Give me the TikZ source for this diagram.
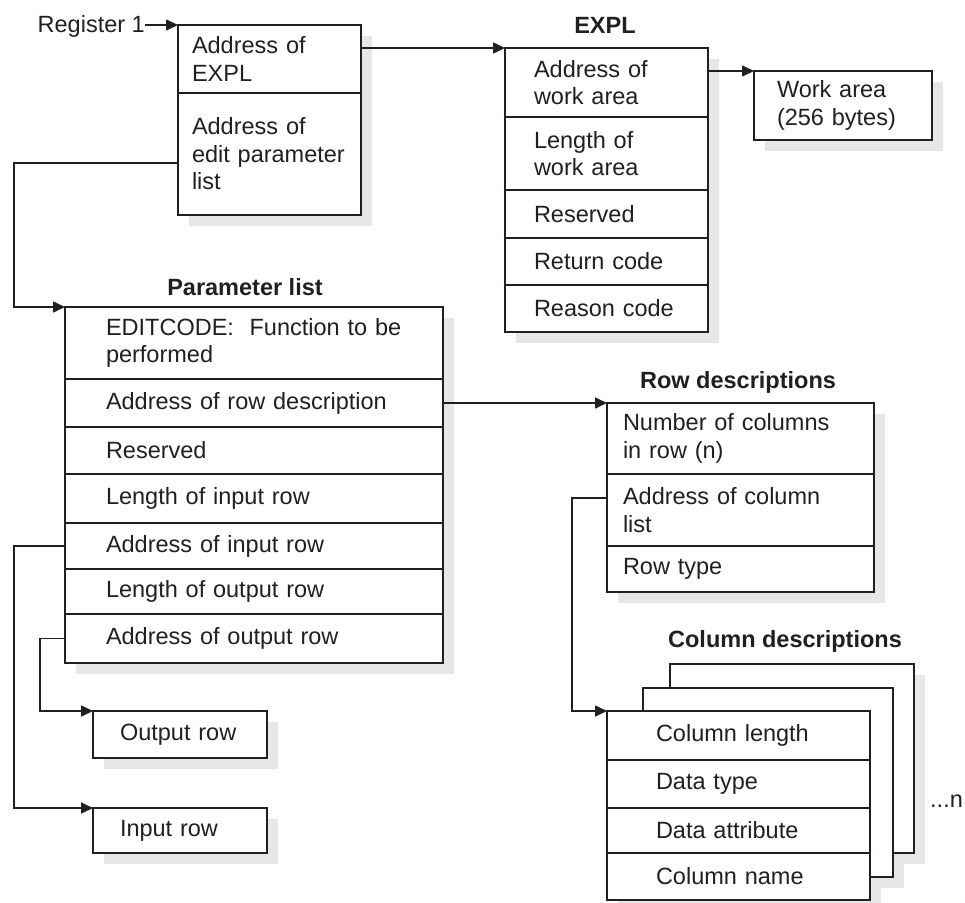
\documentclass[tikz,border=0pt]{standalone}
\usepackage{fontspec}
\setmainfont{Liberation Sans}
\usetikzlibrary{arrows.meta, calc, positioning, backgrounds}
\definecolor{cLine}{HTML}{231F20}
\definecolor{cShade}{HTML}{E6E7E8}
\newcommand{\cellfont}{\fontsize{23.5pt}{27.5pt}\selectfont}
\tikzset{
    cell/.style 2 args={draw=cLine, line width=1.6pt, fill=white, text=cLine,
                   outer sep=0pt, inner ysep=0pt, inner xsep=#2,
                   minimum width=#1, text width=#1-2*#2, align=left,
                   anchor=north west, font=\cellfont},
    sheet/.style ={draw=cLine, line width=1.6pt, fill=white, outer sep=0pt,
                   inner sep=0pt, anchor=north west},
    title/.style ={font=\cellfont\bfseries, text=cLine, inner sep=0pt, anchor=base},
    plain/.style ={font=\cellfont, text=cLine, inner sep=0pt},
    ptr/.style   ={draw=cLine, line width=1.6pt, -{Triangle[length=12pt, width=11pt]}},
}

\begin{document}
\begin{tikzpicture}[x=1pt, y=-1pt]
\useasboundingbox (0,0) rectangle (965,902);

% ===================== Register 1 block =====================
\node[cell={183pt}{14pt}, minimum height=68pt] (b1a) at (178,25) {Address of\\EXPL};
\node[cell={183pt}{14pt}, minimum height=122pt, below=0pt of b1a] (b1b)
     {Address of\\edit parameter\\list};
\node[plain, anchor=base east] (reg) at (145,32) {Register 1};

% ===================== EXPL =====================
\node[cell={203pt}{29pt}, minimum height=69pt] (e1) at (505,48) {Address of\\work area};
\node[cell={203pt}{29pt}, minimum height=73pt, below=0pt of e1] (e2) {Length of\\work area};
\node[cell={203pt}{29pt}, minimum height=48pt, below=0pt of e2] (e3) {Reserved};
\node[cell={203pt}{29pt}, minimum height=47pt, below=0pt of e3] (e4) {Return code};
\node[cell={203pt}{29pt}, minimum height=47pt, below=0pt of e4] (e5) {Reason code};
\node[title] (texpl) at (605,33) {EXPL};

\node[cell={178pt}{23pt}, minimum height=69pt] (wa) at (754,71) {Work area\\(256 bytes)};

% ===================== Parameter list =====================
\node[cell={378pt}{41pt}, minimum height=72pt] (p1) at (65,307)
     {EDITCODE:\ \ Function to be\\performed};
\node[cell={378pt}{41pt}, minimum height=48pt, below=0pt of p1] (p2) {Address of row description};
\node[cell={378pt}{41pt}, minimum height=47pt, below=0pt of p2] (p3) {Reserved};
\node[cell={378pt}{41pt}, minimum height=49pt, below=0pt of p3] (p4) {Length of input row};
\node[cell={378pt}{41pt}, minimum height=46pt, below=0pt of p4] (p5) {Address of input row};
\node[cell={378pt}{41pt}, minimum height=45pt, below=0pt of p5] (p6) {Length of output row};
\node[cell={378pt}{41pt}, minimum height=49pt, below=0pt of p6] (p7) {Address of output row};
\node[title] (tparm) at (245,295) {Parameter list};

\node[cell={174pt}{27pt}, minimum height=47pt] (orow) at (93,711) {Output row};
\node[cell={174pt}{27pt}, minimum height=45pt] (irow) at (93,808) {Input row};

% ===================== Row descriptions =====================
\node[cell={267pt}{16pt}, minimum height=71pt] (r1) at (607,403) {Number of columns\\in row (n)};
\node[cell={267pt}{16pt}, minimum height=72pt, below=0pt of r1] (r2) {Address of column\\list};
\node[cell={267pt}{16pt}, minimum height=46pt, below=0pt of r2] (r3) {Row type};
\node[title] (trow) at (738,388) {Row descriptions};

% ===================== Column descriptions =====================
\node[sheet, minimum width=244pt, minimum height=189pt] (cback) at (670,664) {};
\node[sheet, minimum width=250pt, minimum height=189pt] (cmid) at (643,688) {};
\node[cell={263pt}{49pt}, minimum height=49pt] (c1) at (607,711) {Column length};
\node[cell={263pt}{49pt}, minimum height=48pt, below=0pt of c1] (c2) {Data type};
\node[cell={263pt}{49pt}, minimum height=45pt, below=0pt of c2] (c3) {Data attribute};
\node[cell={263pt}{49pt}, minimum height=47pt, below=0pt of c3] (c4) {Column name};
\node[title] (tcol) at (785,647) {Column descriptions};
\node[plain, anchor=base west] (more) at (930,807) {...n};

% ===================== Shadows =====================
\begin{scope}[on background layer]
  \foreach \a/\b in {b1a/b1b, e1/e5, wa/wa, p1/p7, r1/r3, cback/cback,
                     cmid/cmid, c1/c4, orow/orow, irow/irow}
    \fill[cShade] ($(\a.north west)+(11,11)$) rectangle ($(\b.south east)+(11,11)$);
\end{scope}

% ===================== Pointers =====================
\draw[ptr] (reg.east |- b1a.north) -- (b1a.north west);
\draw[ptr] (b1a.east |- e1.north) -- (e1.north west);
\draw[ptr] (e1.east |- wa.north) -- (wa.north west);
\draw[ptr] ($(b1b.west)+(0,9)$) -- ++(-164,0) |- (p1.north west);
\draw[ptr] (p2.east |- r1.north) -- (r1.north west);
\draw[ptr] ($(r2.west)+(0,-12)$) -- ++(-35,0) |- (c1.north west);
\draw[ptr] (p5.west) -- ++(-51,0) |- (irow.north west);
\draw[ptr] (p7.west) -- ++(-25,0) |- (orow.north west);

\end{tikzpicture}
\end{document}
